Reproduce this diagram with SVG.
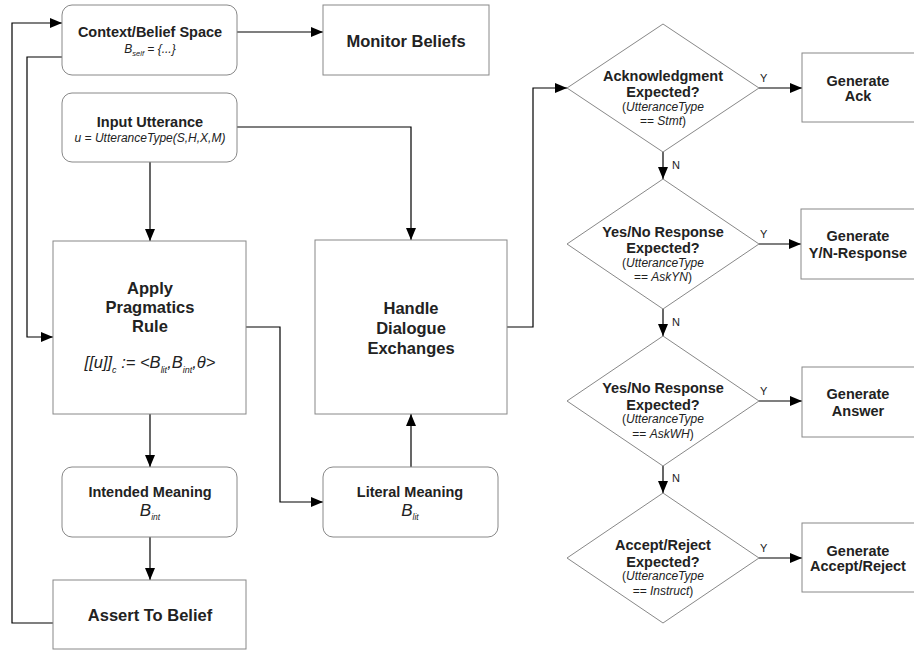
<svg xmlns="http://www.w3.org/2000/svg" width="914" height="650" viewBox="0 0 914 650">
<defs>
<marker id="ah" markerWidth="12" markerHeight="10" refX="12" refY="5" orient="auto" markerUnits="userSpaceOnUse">
<path d="M0,0 L12,5 L0,10 Z" fill="#000"/>
</marker>
<style>
.box{fill:#fff;stroke:#888;stroke-width:1}
.con{fill:none;stroke:#000;stroke-width:1.2;marker-end:url(#ah)}
text{font-family:"Liberation Sans",Arial,sans-serif;fill:#222;text-anchor:middle}
.b13{font-size:14.5px;font-weight:bold}
.b14{font-size:14.5px;font-weight:bold}
.b16{font-size:16.5px;font-weight:bold}
.i11{font-size:12px;font-style:italic}
.sm{font-size:12px}
.lbl{font-size:11px;text-anchor:start}
</style>
</defs>
<rect width="914" height="650" fill="#fff"/>

<g id="connectors">
<path class="con" d="M237,32 H323"/>
<path class="con" d="M237,127 H411 V240"/>
<path class="con" d="M150,162 V241"/>
<path class="con" d="M62,57 H27 V337 H53"/>
<path class="con" d="M246,327 H280 V502 H323"/>
<path class="con" d="M411,467 V414"/>
<path class="con" d="M150,414 V467"/>
<path class="con" d="M150,537 V580"/>
<path class="con" d="M53,623 H12 V23 H62"/>
<path class="con" d="M507,327 H533 V88 H567"/>
<path class="con" d="M759,88 H802"/>
<path class="con" d="M663,152 V179"/>
<path class="con" d="M759,244 H801"/>
<path class="con" d="M663,309 V336"/>
<path class="con" d="M759,401 H802"/>
<path class="con" d="M663,466 V493"/>
<path class="con" d="M759,558 H802"/>
<text class="lbl" x="760" y="82">Y</text>
<text class="lbl" x="760" y="238">Y</text>
<text class="lbl" x="760" y="395">Y</text>
<text class="lbl" x="760" y="552">Y</text>
<text class="lbl" x="672" y="169">N</text>
<text class="lbl" x="672" y="326">N</text>
<text class="lbl" x="672" y="482">N</text>
</g>

<g id="context">
<rect class="box" x="62" y="5" width="175" height="70" rx="10"/>
<text class="b13" x="150" y="37">Context/Belief Space</text>
<text class="i11" x="150" y="53">B<tspan font-size="7.5" dy="3">self</tspan><tspan dy="-3"> = {...}</tspan></text>
</g>

<g id="monitor">
<rect class="box" x="323" y="5" width="166" height="70"/>
<text class="b16" x="406" y="47">Monitor Beliefs</text>
</g>

<g id="input">
<rect class="box" x="62" y="93" width="175" height="69" rx="10"/>
<text class="b13" x="150" y="127">Input Utterance</text>
<text class="i11" x="150" y="142">u = UtteranceType(S,H,X,M)</text>
</g>

<g id="apply">
<rect class="box" x="53" y="241" width="193" height="173"/>
<text class="b16" x="150" y="294">Apply</text>
<text class="b16" x="150" y="313">Pragmatics</text>
<text class="b16" x="150" y="332">Rule</text>
<text x="150" y="368" style="font-size:16.5px;font-style:italic">[[u]]<tspan font-size="9" dy="5">c</tspan><tspan dy="-5"> := &lt;B</tspan><tspan font-size="9" dy="5">lit</tspan><tspan dy="-5">,B</tspan><tspan font-size="9" dy="5">int</tspan><tspan dy="-5">,θ&gt;</tspan></text>
</g>

<g id="handle">
<rect class="box" x="315" y="240" width="192" height="174"/>
<text class="b16" x="411" y="314">Handle</text>
<text class="b16" x="411" y="334">Dialogue</text>
<text class="b16" x="411" y="354">Exchanges</text>
</g>

<g id="intended">
<rect class="box" x="62" y="467" width="175" height="70" rx="10"/>
<text class="b13" x="150" y="497">Intended Meaning</text>
<text x="150" y="516" style="font-size:17px;font-style:italic">B<tspan font-size="8.5" dy="4">int</tspan></text>
</g>

<g id="literal">
<rect class="box" x="323" y="467" width="175" height="70" rx="10"/>
<text class="b13" x="410" y="497">Literal Meaning</text>
<text x="410" y="516" style="font-size:17px;font-style:italic">B<tspan font-size="8.5" dy="4">lit</tspan></text>
</g>

<g id="assert">
<rect class="box" x="53" y="580" width="193" height="69"/>
<text class="b16" x="150" y="621">Assert To Belief</text>
</g>

<g id="d1">
<path class="box" d="M663,24 L759,88 L663,152 L567,88 Z"/>
<text class="b14" x="663" y="81">Acknowledgment</text>
<text class="b14" x="663" y="97">Expected?</text>
<text class="sm" x="663" y="111">(<tspan font-style="italic">UtteranceType</tspan></text>
<text class="sm" x="663" y="125">== <tspan font-style="italic">Stmt</tspan>)</text>
</g>

<g id="d2">
<path class="box" d="M663,179 L759,244 L663,309 L567,244 Z"/>
<text class="b14" x="663" y="237">Yes/No Response</text>
<text class="b14" x="663" y="253">Expected?</text>
<text class="sm" x="663" y="267">(<tspan font-style="italic">UtteranceType</tspan></text>
<text class="sm" x="663" y="281">== <tspan font-style="italic">AskYN</tspan>)</text>
</g>

<g id="d3">
<path class="box" d="M663,336 L759,401 L663,466 L567,401 Z"/>
<text class="b14" x="663" y="393">Yes/No Response</text>
<text class="b14" x="663" y="410">Expected?</text>
<text class="sm" x="663" y="423">(<tspan font-style="italic">UtteranceType</tspan></text>
<text class="sm" x="663" y="438">== <tspan font-style="italic">AskWH</tspan>)</text>
</g>

<g id="d4">
<path class="box" d="M663,493 L759,558 L663,623 L567,558 Z"/>
<text class="b14" x="663" y="550">Accept/Reject</text>
<text class="b14" x="663" y="567">Expected?</text>
<text class="sm" x="663" y="580">(<tspan font-style="italic">UtteranceType</tspan></text>
<text class="sm" x="663" y="595">== <tspan font-style="italic">Instruct</tspan>)</text>
</g>

<g id="genack">
<rect class="box" x="802" y="53" width="130" height="69"/>
<text class="b14" x="858" y="86">Generate</text>
<text class="b14" x="858" y="101">Ack</text>
</g>

<g id="genyn">
<rect class="box" x="801" y="209" width="130" height="70"/>
<text class="b14" x="858" y="241">Generate</text>
<text class="b14" x="858" y="258">Y/N-Response</text>
</g>

<g id="genans">
<rect class="box" x="802" y="367" width="130" height="70"/>
<text class="b14" x="858" y="399">Generate</text>
<text class="b14" x="858" y="416">Answer</text>
</g>

<g id="genacc">
<rect class="box" x="802" y="523" width="130" height="69"/>
<text class="b14" x="858" y="556">Generate</text>
<text class="b14" x="858" y="571">Accept/Reject</text>
</g>
</svg>
